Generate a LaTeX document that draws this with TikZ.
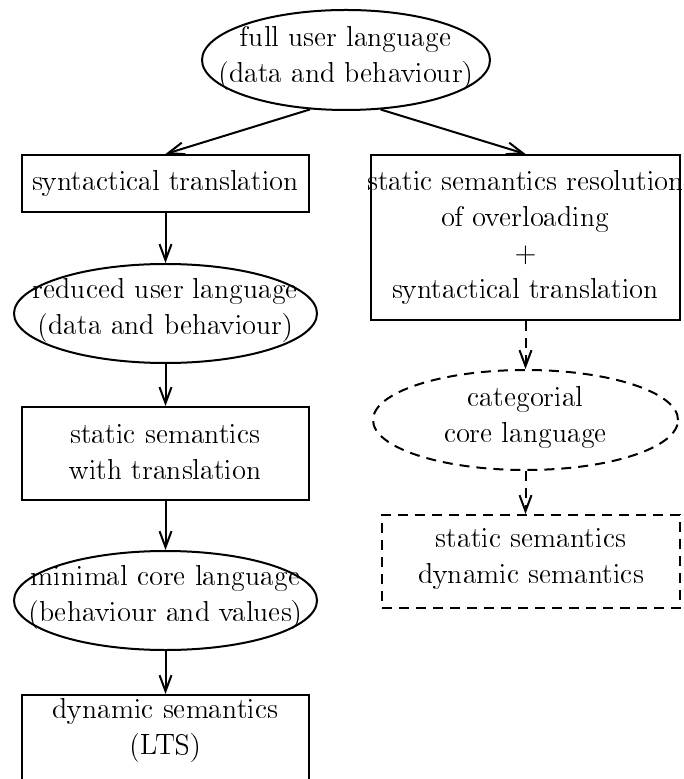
\documentclass[tikz,border=0pt]{standalone}
\usepackage[T1]{fontenc}
\usetikzlibrary{shapes.geometric,arrows.meta}
\newcommand\dunhfont{\fontencoding{T1}\fontfamily{lmdh}\fontsize{13.25}{18}\selectfont}
\tikzset{
  shp/.style={draw, line width=1pt, inner sep=0pt},
  boxshape/.style={shp, rectangle},
  ellshape/.style={shp, ellipse},
  dashline/.style={dash pattern=on 5pt off 3.5pt},
  txt/.style={align=center, inner sep=0pt, font=\dunhfont},
  flow/.style={line width=1pt, -{Straight Barb[length=8pt,width=6pt,line width=1pt]}}
}
\begin{document}
\begin{tikzpicture}[x=0.5pt,y=-0.5pt]
\useasboundingbox (0,0) rectangle (683,779);
\begin{scope}
\clip (0,0) rectangle (683,779);
% shapes
\node[ellshape, minimum width=144pt, minimum height=50pt] (e1) at (346,60) {};
\node[boxshape, minimum width=143.5pt, minimum height=28.5pt] (b1) at (165.5,183.5) {};
\node[boxshape, minimum width=154.5pt, minimum height=82.5pt] (b4) at (525.5,237.5) {};
\node[ellshape, minimum width=151.5pt, minimum height=49.5pt] (e2) at (165.5,313.5) {};
\node[boxshape, minimum width=143.5pt, minimum height=46.5pt] (b2) at (165.5,453.5) {};
\node[ellshape, minimum width=151.5pt, minimum height=49.5pt] (e3) at (165.5,600.5) {};
\node[boxshape, minimum width=143.5pt, minimum height=47.5pt] (b3) at (165.5,742.5) {};
\node[ellshape, dashline, minimum width=152.5pt, minimum height=50pt] (e4) at (525.5,420) {};
\node[boxshape, dashline, minimum width=149pt, minimum height=46.5pt] (b5) at (531,561.5) {};
% texts
\node[txt] (t1) at (346,58.5) {full user language\\(data and behaviour)};
\node[txt] (t2) at (165.5,183.5) {syntactical translation};
\node[txt] (t3) at (525.5,237.5) {static semantics resolution\\of overloading\\$+$\\syntactical translation};
\node[txt] (t4) at (165.5,310) {reduced user language\\(data and behaviour)};
\node[txt] (t5) at (165.5,452.5) {static semantics\\with translation};
\node[txt] (t6) at (165.5,597) {minimal core language\\(behaviour and values)};
\node[txt] (t7) at (165.5,730.5) {dynamic semantics\\(LTS)};
\node[txt] (t8) at (525.5,417.5) {categorial\\core language};
\node[txt] (t9) at (531,558.5) {static semantics\\dynamic semantics};
% connectors
\draw[flow] (e1.234) -- (b1.north);
\draw[flow] (e1.305) -- (b4.north);
\draw[flow] (b1.south) -- (e2.north);
\draw[flow] (e2.south) -- (b2.north);
\draw[flow] (b2.south) -- (e3.north);
\draw[flow] (e3.south) -- (b3.north);
\draw[flow, dashline] (b4.south) -- (e4.north);
\draw[flow, dashline] (e4.south) -- (e4.south |- b5.north);
\end{scope}
\end{tikzpicture}
\end{document}
